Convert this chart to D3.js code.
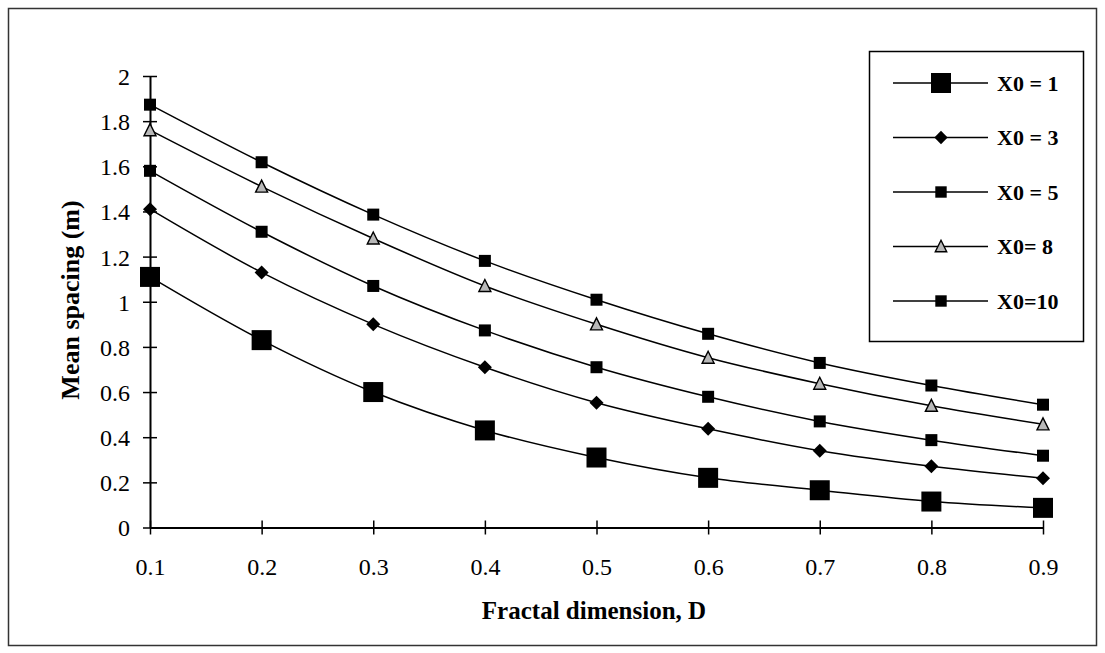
<!DOCTYPE html>
<html>
<head>
<meta charset="utf-8">
<script src="https://cdn.jsdelivr.net/npm/d3@7"></script>
<style>
  html, body { margin: 0; padding: 0; background: #fff; }
  svg { display: block; font-family: "Liberation Serif", "Times New Roman", serif; }
</style>
</head>
<body>
<svg id="chart" width="1105" height="653"></svg>
<script>
// Fractal dimension on the x axis
const dimensions = [0.1, 0.2, 0.3, 0.4, 0.5, 0.6, 0.7, 0.8, 0.9];

// Mean spacing (m) for each starting value X0
const spacingX0_1  = [1.11, 0.83, 0.60, 0.43, 0.31, 0.22, 0.165, 0.115, 0.087];
const spacingX0_3  = [1.41, 1.13, 0.90, 0.71, 0.553, 0.437, 0.34, 0.271, 0.218];
const spacingX0_5  = [1.58, 1.31, 1.07, 0.873, 0.71, 0.579, 0.47, 0.387, 0.318];
const spacingX0_8  = [1.76, 1.51, 1.28, 1.07, 0.90, 0.752, 0.637, 0.539, 0.457];
const spacingX0_10 = [1.873, 1.618, 1.386, 1.181, 1.009, 0.858, 0.729, 0.629, 0.544];

const seriesNames = ["X0 = 1", "X0 = 3", "X0 = 5", "X0= 8", "X0=10"];
const seriesValues = [spacingX0_1, spacingX0_3, spacingX0_5, spacingX0_8, spacingX0_10];
const seriesMarkers = ["bigSquare", "diamond", "square", "triangle", "square"];

const xTicks = [0.1, 0.2, 0.3, 0.4, 0.5, 0.6, 0.7, 0.8, 0.9];
const yTicks = [0, 0.2, 0.4, 0.6, 0.8, 1, 1.2, 1.4, 1.6, 1.8, 2];

const svg = d3.select("#chart");

// outer frame
svg.append("rect")
  .attr("x", 8.5).attr("y", 8.5)
  .attr("width", 1088).attr("height", 637)
  .attr("fill", "none").attr("stroke", "#333").attr("stroke-width", 1.5);

const x = d3.scaleLinear().domain([0.1, 0.9]).range([150, 1043]);
const y = d3.scaleLinear().domain([0, 2]).range([527.5, 76]);

// y axis with crossing ticks
const yAxis = svg.append("g").attr("transform", `translate(${x(0.1)},0)`)
  .call(d3.axisLeft(y).tickValues(yTicks).tickSize(0).tickFormat(d3.format("")))
  .call(g => g.select(".domain").attr("stroke", "#000").attr("stroke-width", 2));
yAxis.selectAll(".tick line").remove();
yAxis.selectAll(".tick").append("line")
  .attr("x1", -7).attr("x2", 7).attr("stroke", "#000").attr("stroke-width", 1.5);
yAxis.selectAll(".tick text")
  .attr("x", -20).attr("dy", "0.35em")
  .attr("font-size", 24).attr("font-family", "Liberation Serif").attr("fill", "#000");

// x axis with crossing ticks
const xAxis = svg.append("g").attr("transform", `translate(0,${y(0)})`)
  .call(d3.axisBottom(x).tickValues(xTicks).tickSize(0).tickFormat(d3.format(".1f")))
  .call(g => g.select(".domain").attr("stroke", "#000").attr("stroke-width", 2));
xAxis.selectAll(".tick line").remove();
xAxis.selectAll(".tick").append("line")
  .attr("y1", -7).attr("y2", 7).attr("stroke", "#000").attr("stroke-width", 1.5);
xAxis.selectAll(".tick text")
  .attr("y", 47).attr("dy", "0")
  .attr("font-size", 24).attr("font-family", "Liberation Serif").attr("fill", "#000");

// axis titles
svg.append("text")
  .attr("x", 594).attr("y", 619)
  .attr("text-anchor", "middle")
  .attr("font-size", 25).attr("font-weight", "bold")
  .text("Fractal dimension, D");

svg.append("text")
  .attr("transform", "translate(79,300) rotate(-90)")
  .attr("text-anchor", "middle")
  .attr("font-size", 26).attr("font-weight", "bold")
  .text("Mean spacing (m)");

// marker drawing
function drawMarker(g, type, cx, cy, scale) {
  const s = scale || 1;
  if (type === "bigSquare") {
    const w = 20 * s;
    g.append("rect").attr("x", cx - w / 2).attr("y", cy - w / 2)
      .attr("width", w).attr("height", w).attr("fill", "#000");
  } else if (type === "square") {
    const w = 12 * s;
    g.append("rect").attr("x", cx - w / 2).attr("y", cy - w / 2)
      .attr("width", w).attr("height", w).attr("fill", "#000");
  } else if (type === "diamond") {
    const r = 7 * s;
    g.append("path")
      .attr("d", `M${cx},${cy - r}L${cx + r},${cy}L${cx},${cy + r}L${cx - r},${cy}Z`)
      .attr("fill", "#000");
  } else if (type === "triangle") {
    const h = 11 * s, w = 12 * s;
    g.append("path")
      .attr("d", `M${cx},${cy - h / 2 - 1}L${cx + w / 2},${cy + h / 2}L${cx - w / 2},${cy + h / 2}Z`)
      .attr("fill", "#b8b8b8").attr("stroke", "#000").attr("stroke-width", 1.4);
  }
}

const line = d3.line()
  .x((d, i) => x(dimensions[i]))
  .y(d => y(d))
  .curve(d3.curveCatmullRom.alpha(0.5));

const plot = svg.append("g");
seriesValues.forEach((vals, si) => {
  plot.append("path")
    .datum(vals)
    .attr("d", line)
    .attr("fill", "none").attr("stroke", "#000").attr("stroke-width", 1.5);
});
seriesValues.forEach((vals, si) => {
  const g = plot.append("g");
  vals.forEach((v, i) => drawMarker(g, seriesMarkers[si], x(dimensions[i]), y(v)));
});

// legend
const legend = svg.append("g");
legend.append("rect")
  .attr("x", 869.5).attr("y", 51.5).attr("width", 214).attr("height", 290)
  .attr("fill", "#fff").attr("stroke", "#000").attr("stroke-width", 1.5);
const legendRowY = d3.scalePoint().domain(seriesNames).range([83, 301]);
seriesNames.forEach((name, si) => {
  const ly = legendRowY(name);
  legend.append("line")
    .attr("x1", 893).attr("x2", 988).attr("y1", ly).attr("y2", ly)
    .attr("stroke", "#000").attr("stroke-width", 1.5);
  drawMarker(legend, seriesMarkers[si], 941, ly, si === 0 ? 1 : 0.95);
  legend.append("text")
    .attr("x", 997).attr("y", ly).attr("dy", "0.35em")
    .attr("font-size", 22).attr("font-weight", "bold")
    .text(name);
});
</script>
</body>
</html>
